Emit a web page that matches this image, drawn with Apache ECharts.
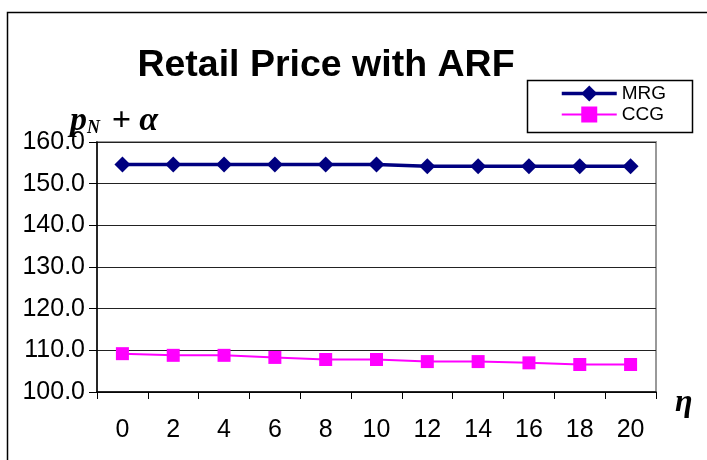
<!DOCTYPE html>
<html><head><meta charset="utf-8">
<script src="https://cdn.jsdelivr.net/npm/echarts@6/dist/echarts.min.js"></script>
<style>html,body{margin:0;padding:0;background:#fff}#c{width:707px;height:460px}</style>
</head><body><div id="c"></div>
<script>
const categories = ['0','2','4','6','8','10','12','14','16','18','20'];
const mrg = [154.6,154.6,154.6,154.6,154.6,154.6,154.2,154.2,154.2,154.2,154.2];
const ccg = [109.2,108.8,108.8,108.3,107.8,107.8,107.3,107.3,107.0,106.6,106.6];
const yTicks = [100,110,120,130,140,150,160];

const chart = echarts.init(document.getElementById('c'), null, {renderer:'canvas'});
chart.setOption({
  backgroundColor:'#fff',
  animation:false,
  title:{text:'Retail Price with ARF', left:321, top:42, textAlign:'center',
    textStyle:{fontFamily:'Liberation Sans, Arial', fontWeight:'bold', fontSize:37.5, color:'#000'}},
  grid:{left:97, top:142, right:51, bottom:68, show:true, borderColor:'#999', borderWidth:2, containLabel:false},
  legend:{orient:'vertical', left:560, top:84, padding:0, itemWidth:55, itemHeight:20, itemGap:2,
    textStyle:{fontFamily:'Liberation Sans, Arial', fontSize:19, color:'#000', padding:[0,0,0,0]},
    data:[{name:'MRG', lineStyle:{width:3.5}}, {name:'CCG', lineStyle:{width:2}}]},
  xAxis:{type:'category', data:categories, boundaryGap:true,
    axisLine:{lineStyle:{color:'#000', width:1.5}},
    axisTick:{show:true, length:7, lineStyle:{color:'#000'}},
    axisLabel:{margin:26, fontFamily:'Liberation Sans, Arial', fontSize:25, color:'#000'},
    splitLine:{show:false}},
  yAxis:{type:'value', min:yTicks[0], max:yTicks[yTicks.length-1], interval:10,
    axisLine:{show:true, lineStyle:{color:'#000', width:1.5}},
    axisTick:{show:true, length:8, lineStyle:{color:'#000'}},
    axisLabel:{margin:12, fontFamily:'Liberation Sans, Arial', fontSize:25, color:'#000',
      formatter:v=>v.toFixed(1)},
    splitLine:{show:true, lineStyle:{color:'#222', width:1.2}}},
  series:[
    {name:'MRG', type:'line', data:mrg, symbol:'diamond', symbolSize:16,
      lineStyle:{color:'#000080', width:3.5}, itemStyle:{color:'#000080'}},
    {name:'CCG', type:'line', data:ccg, symbol:'rect', symbolSize:13,
      lineStyle:{color:'#FF00FF', width:2}, itemStyle:{color:'#FF00FF'}}
  ],
  graphic:[
    {type:'rect', shape:{x:7.5, y:12.5, width:720, height:470}, style:{fill:'none', stroke:'#000', lineWidth:1.5}, silent:true},
    {type:'rect', shape:{x:527.5, y:80.5, width:165, height:52}, style:{fill:'none', stroke:'#000', lineWidth:1.5}, silent:true, z:-1},
    {type:'text', left:70, top:104, style:{
      rich:{p:{fontFamily:'Liberation Serif, Times New Roman', fontStyle:'italic', fontWeight:'bold', fontSize:34, fill:'#000'},
            n:{fontFamily:'Liberation Serif, Times New Roman', fontStyle:'italic', fontWeight:'bold', fontSize:18, fill:'#000', padding:[14,3,0,0]},
            a:{fontFamily:'Liberation Serif, Times New Roman', fontStyle:'italic', fontWeight:'bold', fontSize:34, fill:'#000'}},
      text:'{p|p}{n|N}{a| + α}'}},
    {type:'text', left:675, top:387, style:{text:'η', fontFamily:'Liberation Serif, Times New Roman', fontStyle:'italic', fontWeight:'bold', fontSize:32, fill:'#000'}}
  ]
});
</script></body></html>
